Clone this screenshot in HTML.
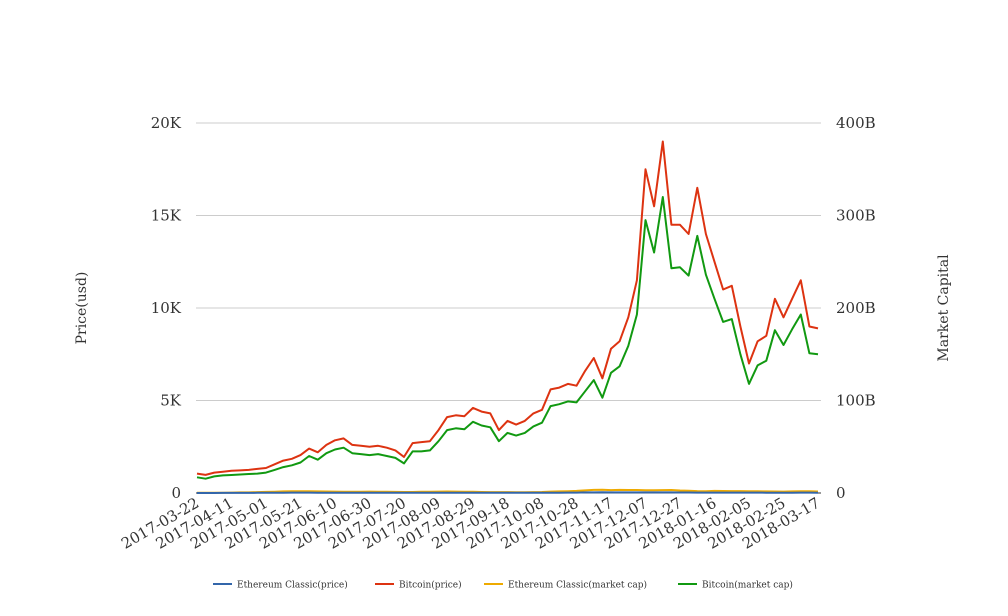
<!DOCTYPE html>
<html><head><meta charset="utf-8"><style>
body{margin:0;background:#fff;}
svg{display:block;font-family:"DejaVu Serif","Liberation Serif",serif;}
</style></head><body>
<svg id="chart" width="1008" height="616" viewBox="0 0 1008 616" xmlns="http://www.w3.org/2000/svg">
<g id="grid"></g>
<g id="yleft"></g>
<g id="yright"></g>
<g id="xaxis"></g>
<g id="series"></g>
<text transform="translate(86,308) rotate(-90)" text-anchor="middle" font-size="14" fill="#333">Price(usd)</text>
<text transform="translate(948,308) rotate(-90)" text-anchor="middle" font-size="14" fill="#333">Market Capital</text>
<g id="legend"></g>
</svg>
<script>
const startDate = "2017-03-22";
const dayStep = 5;
const btcPrice = [1.05,0.98,1.1,1.15,1.2,1.22,1.25,1.3,1.35,1.55,1.75,1.85,2.05,2.4,2.2,2.6,2.85,2.95,2.6,2.55,2.5,2.55,2.45,2.3,1.95,2.7,2.75,2.8,3.4,4.1,4.2,4.15,4.6,4.4,4.3,3.4,3.9,3.7,3.9,4.3,4.5,5.6,5.7,5.9,5.8,6.6,7.3,6.2,7.8,8.2,9.5,11.5,17.5,15.5,19.0,14.5,14.5,14.0,16.5,14.0,12.5,11.0,11.2,9.0,7.0,8.2,8.5,10.5,9.5,10.5,11.5,9.0,8.9];
const btcCap = [17,15.5,18,19,19.5,20,20.5,21,22,25,28,30,33,40,36,43,47,49,43,42,41,42,40,38,32,45,45,46,56,68,70,69,77,73,71,56,65,62,65,72,76,94,96,99,98,110,122,103,130,137,159,193,295,260,320,243,244,235,278,236,210,185,188,150,118,138,143,176,160,177,193,151,150];
const etcPrice = [2,2,2,3,4,5,7,10,12,15,18,20,20,19,18,17,16,15,15,15,16,15,14,13,12,12,14,15,16,17,16,15,14,12,11,11,11,10,10,11,12,16,18,20,24,30,35,38,33,34,33,33,30,31,32,33,28,25,22,20,24,23,22,21,20,19,18,17,16,18,20,19,17];
const etcCap = [0.2,0.2,0.25,0.3,0.4,0.6,0.7,1.0,1.2,1.4,1.7,1.9,1.9,1.8,1.7,1.6,1.5,1.4,1.4,1.4,1.5,1.4,1.3,1.2,1.1,1.1,1.3,1.4,1.5,1.6,1.5,1.4,1.3,1.1,1.0,1.0,1.0,0.9,0.9,1.0,1.1,1.5,1.7,1.9,2.3,2.8,3.3,3.6,3.1,3.3,3.2,3.2,2.9,3.0,3.1,3.2,2.7,2.4,2.1,1.9,2.3,2.2,2.1,2.0,1.9,1.8,1.7,1.6,1.5,1.7,1.9,1.8,1.6];
const leftTicks = ["0","5K","10K","15K","20K"];
const rightTicks = ["0","100B","200B","300B","400B"];
const xTickLabels = ["2017-03-22","2017-04-11","2017-05-01","2017-05-21","2017-06-10","2017-06-30","2017-07-20","2017-08-09","2017-08-29","2017-09-18","2017-10-08","2017-10-28","2017-11-17","2017-12-07","2017-12-27","2018-01-16","2018-02-05","2018-02-25","2018-03-17"];
const seriesNames = ["Ethereum Classic(price)","Bitcoin(price)","Ethereum Classic(market cap)","Bitcoin(market cap)"];
const seriesColors = ["#3366aa","#dd3311","#eeaa00","#119911"];

const NS="http://www.w3.org/2000/svg";
const X0=197, PXDAY=1.725, Y0=493, H=370;
const xDay=d=>X0+d*PXDAY;
const yL=v=>Y0-v/20000*H;
const yR=v=>Y0-v/400*H;
function mk(tag,attrs,parent){const e=document.createElementNS(NS,tag);for(const k in attrs)e.setAttribute(k,attrs[k]);parent.appendChild(e);return e;}
const grid=document.getElementById('grid'),yl=document.getElementById('yleft'),yr=document.getElementById('yright'),xa=document.getElementById('xaxis'),ser=document.getElementById('series'),leg=document.getElementById('legend');
leftTicks.forEach((t,i)=>{
  const y=Y0-i*H/4;
  const l=mk('line',{x1:196,x2:821,y1:y,y2:y,stroke:i?'#cccccc':'#333',"stroke-width":1},grid);
  
  
  const a=mk('text',{x:181,y:y+5,"text-anchor":"end","font-size":15,fill:"#333"},yl);a.textContent=t;
  
  
  const b=mk('text',{x:836,y:y+5,"text-anchor":"start","font-size":15,fill:"#333"},yr);b.textContent=rightTicks[i];
  
  
});
xTickLabels.forEach((t,i)=>{
  const x=xDay(i*20);
  const e=mk('text',{transform:`translate(${x+3},${506}) rotate(-30)`,"text-anchor":"end","font-size":15,fill:"#333"},xa);e.textContent=t;
  
  
});
function line(arr,yf,scale,color,name){
  const pts=arr.map((v,i)=>`${xDay(i*dayStep).toFixed(1)},${yf(v*scale).toFixed(1)}`).join(' ');
  const p=mk('polyline',{points:pts,fill:'none',stroke:color,"stroke-width":2,"stroke-linejoin":"round"},ser);
  
  
}
line(etcCap,yR,1,seriesColors[2],'etc-marketcap-line');
line(etcPrice,yL,1,seriesColors[0],'etc-price-line');
line(btcCap,yR,1,seriesColors[3],'btc-marketcap-line');
line(btcPrice,yL,1000,seriesColors[1],'btc-price-line');
const legX=[213,375,484,678];
seriesNames.forEach((n,i)=>{
  const g=mk('g',{},leg);
  
  
  mk('line',{x1:legX[i],x2:legX[i]+19,y1:584,y2:584,stroke:seriesColors[i],"stroke-width":2},g);
  const t=mk('text',{x:legX[i]+24,y:587.5,"font-size":9,fill:"#333"},g);t.textContent=n;
});
</script>
</body></html>
